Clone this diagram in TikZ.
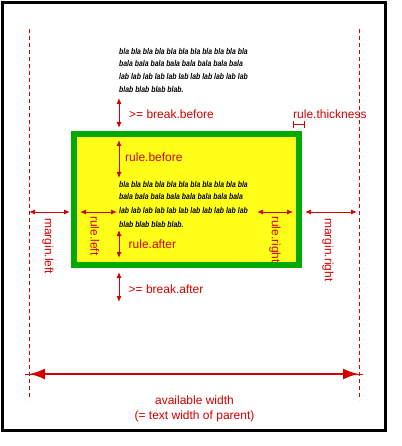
\documentclass[tikz,border=0pt]{standalone}
\usepackage{fontspec}
\setmainfont{Liberation Sans}
\newfontfamily\blafont[FakeStretch=0.82]{Liberation Sans}
\usetikzlibrary{arrows.meta}
\definecolor{dimred}{RGB}{210, 0, 0}
\definecolor{rulegreen}{RGB}{0, 170, 0}
\definecolor{boxfill}{RGB}{255, 255, 25}
\tikzset{
    dimline/.style={dimred, line width=1pt,
        {Latex[length=6pt, width=5pt]}-{Latex[length=6pt, width=5pt]}},
    dimlabel/.style={dimred, inner sep=0pt, font=\fontsize{12}{14}\selectfont},
    guideline/.style={dimred, line width=1pt, dash pattern=on 4pt off 3pt},
    blaline/.style={inner sep=0pt, anchor=base west,
        font=\blafont\fontsize{8.4}{10}\selectfont\bfseries\itshape},
}

\begin{document}
\begin{tikzpicture}[x=1pt, y=-1pt]
        \useasboundingbox (0, 0) rectangle (401, 446);
        \draw[line width=2.5pt] (2.5, 2.5) rectangle (385.5, 430.5); % page

        \coordinate (lefttop) at (29, 29);
        \coordinate (leftbottom) at (29, 400);
        \coordinate (righttop) at (359, 29);
        \coordinate (rightbottom) at (359, 400);
        \draw[guideline] (lefttop) -- (leftbottom);
        \draw[guideline] (righttop) -- (rightbottom);

        \draw[rulegreen, line width=6pt, fill=boxfill] (74, 134) rectangle (299, 265);

        \foreach \txt/\yy [count=\i] in {
            bla bla bla bla bla bla bla bla bla bla bla/55,
            bala bala bala bala bala bala bala bala/67,
            lab lab lab lab lab lab lab lab lab lab lab/80,
            blab blab blab blab./93}{
            \node[blaline] (before\i) at (119, \yy) {\txt};
        }
        \foreach \txt/\yy [count=\i] in {
            bla bla bla bla bla bla bla bla bla bla bla/187,
            bala bala bala bala bala bala bala bala/200,
            lab lab lab lab lab lab lab lab lab lab lab/213,
            blab blab blab blab./227}{
            \node[blaline] (inside\i) at (119, \yy) {\txt};
        }

        % vertical distances
        \coordinate (bb1) at (119, 98);   \coordinate (bb2) at (119, 128);
        \coordinate (rb1) at (119, 140);  \coordinate (rb2) at (119, 178);
        \coordinate (ra1) at (119, 230);  \coordinate (ra2) at (119, 258);
        \coordinate (ba1) at (119, 272);  \coordinate (ba2) at (119, 302);
        % horizontal distances
        \coordinate (ml1) at (29, 212);   \coordinate (ml2) at (70, 212);
        \coordinate (rl1) at (80, 212);   \coordinate (rl2) at (117, 212);
        \coordinate (rr1) at (257, 212);  \coordinate (rr2) at (293, 212);
        \coordinate (mr1) at (305, 212);  \coordinate (mr2) at (357, 212);
        \foreach \a/\b in {bb1/bb2, rb1/rb2, ra1/ra2, ba1/ba2,
                ml1/ml2, rl1/rl2, rr1/rr2, mr1/mr2}{
            \draw[dimline] (\a) -- (\b);
        }

        \node[dimlabel, anchor=base west] (breakbefore) at (129, 119)
            {>= break.before};
        \node[dimlabel, anchor=base west] (rulebefore) at (125, 162)
            {rule.before};
        \node[dimlabel, anchor=base west] (ruleafter) at (128.5, 248)
            {rule.after};
        \node[dimlabel, anchor=base west] (breakafter) at (128.5, 293)
            {>= break.after};
        \node[dimlabel, anchor=base west] (rulethickness) at (293, 119)
            {rule.thickness};
        \coordinate (rt1) at (293, 125);
        \coordinate (rt2) at (305, 125);
        \draw[dimred, line width=1pt, {Bar[width=7pt]}-{Bar[width=7pt]}] (rt1) -- (rt2);

        \foreach \xx/\yy/\name/\txt in {48/218/marginleft/margin.left,
                95/216/ruleleft/rule.left, 275/216/ruleright/rule.right,
                328/218/marginright/margin.right}{
            \node[dimlabel, rotate=-90, anchor=west] (\name) at (\xx, \yy) {\txt};
        }

        \coordinate (aw0) at (25, 374);
        \coordinate (aw1) at (29, 374);
        \coordinate (aw2) at (359, 374);
        \coordinate (aw3) at (363, 374);
        \draw[dimred, line width=1pt] (aw0) -- (aw3);
        \draw[dimred, line width=2.5pt,
            {Latex[length=16pt, width=11pt]}-{Latex[length=16pt, width=11pt]}] (aw1) -- (aw2);
        \node[dimlabel, align=center, anchor=base,
            font=\fontsize{12}{14.5}\selectfont] (availwidth) at (194.5, 419)
            {available width\\(= text width of parent)};
    \end{tikzpicture}
\end{document}
